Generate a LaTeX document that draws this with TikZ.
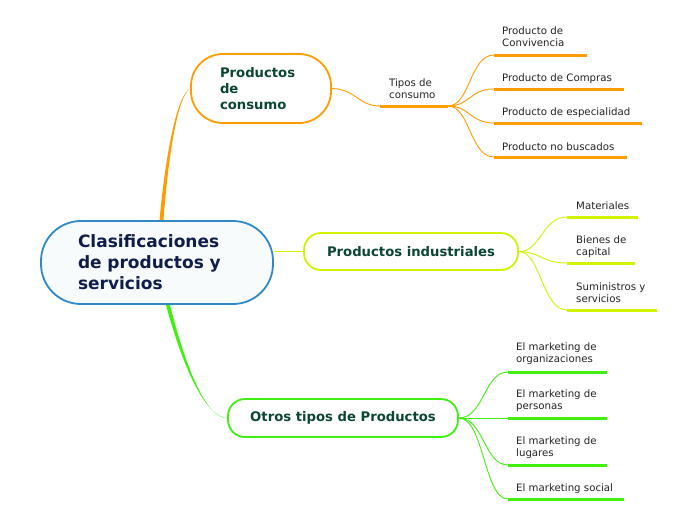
\documentclass[tikz,border=0pt]{standalone}
\usepackage{fontspec}
\setmainfont{DejaVu Sans}
\definecolor{corange}{HTML}{FF9D00}
\definecolor{cyel}{HTML}{D2F200}
\definecolor{cgreen}{HTML}{40F010}
\definecolor{cblue}{HTML}{2F88C8}
\definecolor{cnavy}{HTML}{0E1E48}
\definecolor{cdkgreen}{HTML}{0B4536}
\definecolor{cleaf}{HTML}{222222}
\definecolor{rootfill}{HTML}{F7FBFB}
\pgfdeclarelayer{bg}
\pgfsetlayers{bg,main}
\tikzset{
  leaf/.style={font=\fontsize{10.2}{12.5}\selectfont, text=cleaf, align=left, inner sep=0pt, anchor=base west},
  mainbox/.style={draw, line width=1.8pt, fill=white, text=cdkgreen, font=\bfseries\fontsize{13.2}{16}\selectfont, inner sep=0pt},
  uline/.style={line width=3pt},
  thin/.style={line width=0.9pt},
}
\begin{document}
\begin{tikzpicture}[x=1pt,y=-1pt]
\useasboundingbox (0,0) rectangle (696,520);

\coordinate (tS) at (380,106); \coordinate (tE) at (448,106);
\coordinate (c1S) at (494,55);  \coordinate (c1E) at (587,55);
\coordinate (c2S) at (494,89);  \coordinate (c2E) at (624,89);
\coordinate (c3S) at (494,123); \coordinate (c3E) at (642,123);
\coordinate (c4S) at (494,157); \coordinate (c4E) at (627,157);
\coordinate (i1S) at (567,217); \coordinate (i1E) at (638,217);
\coordinate (i2S) at (567,263); \coordinate (i2E) at (635,263);
\coordinate (i3S) at (567,310); \coordinate (i3E) at (657,310);
\coordinate (o1S) at (508,372); \coordinate (o1E) at (607,372);
\coordinate (o2S) at (508,418); \coordinate (o2E) at (607,418);
\coordinate (o3S) at (508,465); \coordinate (o3E) at (607,465);
\coordinate (o4S) at (508,499); \coordinate (o4E) at (624,499);

% main nodes
\node[mainbox, draw=cblue, fill=rootfill, rounded corners=40pt, minimum width=232pt, minimum height=83pt,
      text width=158pt, align=left, text=cnavy, font=\bfseries\fontsize{17}{21}\selectfont]
  (root) at (157,262.5) {Clasificaciones\\de productos y\\servicios};
\node[mainbox, draw=corange, rounded corners=32pt, minimum width=140pt, minimum height=69pt,
      text width=82pt, align=left]
  (cons) at (261,88.5) {Productos\\de\\consumo};
\node[mainbox, draw=cyel, rounded corners=17pt, minimum width=214pt, minimum height=37pt]
  (indu) at (411,251.5) {Productos industriales};
\node[mainbox, draw=cgreen, rounded corners=17pt, minimum width=230pt, minimum height=38pt]
  (otro) at (343,418) {Otros tipos de Productos};

% ---------- connectors (background layer) ----------
\begin{pgfonlayer}{bg}
\fill[corange] ([xshift=2.5pt]root.north) .. controls (165,160) and (176,96) .. (cons.west)
   .. controls (177,97) and (168,160) .. ([xshift=6.5pt]root.north) -- cycle;
\fill[cgreen] ([xshift=9pt]root.south) .. controls (182,365) and (205,417) .. (otro.west)
   .. controls (206,419) and (185,365) .. ([xshift=13pt]root.south) -- cycle;
\draw[cyel, thin] (indu.west) -- (indu.west -| root.east);

\draw[corange, thin] (cons.east) .. controls (356,89) and (358,106) .. (tS);
\draw[corange, uline] (tS) -- (tE);
\foreach \s/\e in {c1S/c1E,c2S/c2E,c3S/c3E,c4S/c4E}{
  \draw[corange, thin] (tE) .. controls (470,106) and (470,0 |- \s) .. (\s);
  \draw[corange, uline] (\s) -- (\e);
}
\foreach \s/\e in {i1S/i1E,i2S/i2E,i3S/i3E}{
  \draw[cyel, thin] (indu.east) .. controls (541,252) and (542,0 |- \s) .. (\s);
  \draw[cyel, uline] (\s) -- (\e);
}
\foreach \s/\e in {o1S/o1E,o2S/o2E,o3S/o3E,o4S/o4E}{
  \draw[cgreen, thin] (otro.east) .. controls (484,418) and (484,0 |- \s) .. (\s);
  \draw[cgreen, uline] (\s) -- (\e);
}
\end{pgfonlayer}

% ---------- labels (anchor = baseline of last line) ----------
\node[leaf] (tipos) at (389,98.5) {Tipos de\\consumo};
\node[leaf] (l1) at (502,46.5) {Producto de\\Convivencia};
\node[leaf] (l2) at (502,81) {Producto de Compras};
\node[leaf] (l3) at (502,115) {Producto de especialidad};
\node[leaf] (l4) at (502,150) {Producto no buscados};
\node[leaf] (m1) at (576,209) {Materiales};
\node[leaf] (m2) at (576,255.5) {Bienes de\\capital};
\node[leaf] (m3) at (576,302.5) {Suministros y\\servicios};
\node[leaf] (n1) at (516,362.5) {El marketing de\\organizaciones};
\node[leaf] (n2) at (516,409.5) {El marketing de\\personas};
\node[leaf] (n3) at (516,456.5) {El marketing de\\lugares};
\node[leaf] (n4) at (516,491) {El marketing social};
\end{tikzpicture}
\end{document}
